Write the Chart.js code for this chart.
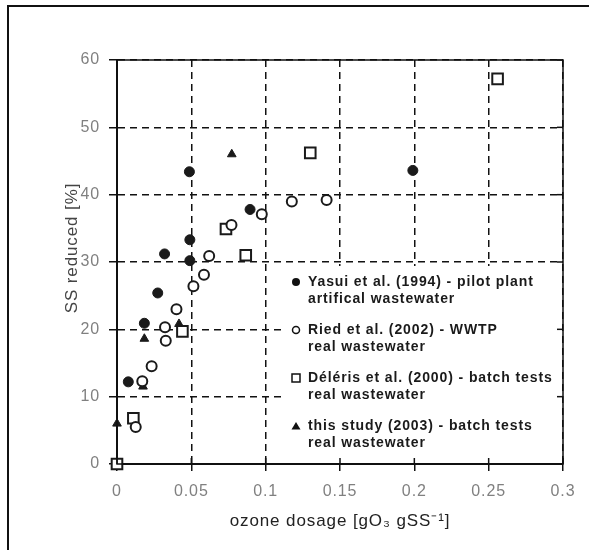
<!DOCTYPE html>
<html>
<head>
<meta charset="utf-8">
<script src="https://cdn.jsdelivr.net/npm/chart.js"></script>
<style>
	body { margin: 0; background: #fff; }
	#wrap { width: 589px; height: 550px; }
</style>
</head>
<body>
<div id="wrap"><canvas id="chartID" width="589" height="550"></canvas></div>
<script>
// SS reduction vs. ozone dosage, four studies
const yasuiX = [0.0076, 0.0184, 0.0274, 0.032, 0.049, 0.049, 0.0487, 0.0895, 0.199]
const yasuiY = [12.2, 20.9, 25.4, 31.2, 30.2, 33.3, 43.4, 37.8, 43.6]

const riedX = [0.0126, 0.017, 0.0233, 0.0323, 0.0328, 0.040, 0.0514, 0.0585, 0.062, 0.077, 0.0974, 0.1176, 0.141]
const riedY = [5.5, 12.3, 14.5, 20.3, 18.3, 23.0, 26.4, 28.1, 30.9, 35.5, 37.1, 39.0, 39.2]

const delerisX = [0, 0.011, 0.044, 0.0733, 0.0866, 0.130, 0.256]
const delerisY = [0, 6.8, 19.7, 34.9, 31.0, 46.2, 57.2]

const studyX = [0, 0.0175, 0.0184, 0.0417, 0.0772]
const studyY = [6.0, 11.5, 18.6, 20.8, 46.0]

const legendLines = [
	['Yasui et al. (1994) - pilot plant', 'artifical wastewater'],
	['Ried et al. (2002) - WWTP', 'real wastewater'],
	['Déléris et al. (2000) - batch tests', 'real wastewater'],
	['this study (2003) - batch tests', 'real wastewater'],
]

const yTitle = 'SS reduced [%]'
const fontName = '"Liberation Sans", Arial, sans-serif'

function toPoints(xs, ys) {
	return xs.map(function(x, i) { return { x: x, y: ys[i] } })
}

// white box with the series key, frame, inner ticks and the y title
const keyBox = {
	id: 'keyBox',
	beforeDraw(chart) {
		chart.ctx.letterSpacing = '0.9px'
	},
	beforeDatasetsDraw(chart) {
		const ctx = chart.ctx
		const ca = chart.chartArea
		ctx.save()
		ctx.fillStyle = '#fff'
		ctx.fillRect(ca.left + 168, ca.top + 206, ca.right - ca.left - 169, ca.bottom - ca.top - 207)
		ctx.restore()
	},
	afterDraw(chart) {
		const ctx = chart.ctx
		const ca = chart.chartArea
		const xs = chart.scales.x
		const ys = chart.scales.y
		ctx.save()

		// plot frame
		ctx.strokeStyle = '#111'
		ctx.lineWidth = 1.5
		ctx.strokeRect(ca.left, ca.top, ca.right - ca.left, ca.bottom - ca.top)

		// short inner ticks on bottom and right edges
		xs.ticks.forEach(function(t) {
			const px = xs.getPixelForValue(t.value)
			ctx.beginPath()
			ctx.moveTo(px, ca.bottom)
			ctx.lineTo(px, ca.bottom - 6)
			ctx.stroke()
		})
		ys.ticks.forEach(function(t) {
			const py = ys.getPixelForValue(t.value)
			ctx.beginPath()
			ctx.moveTo(ca.right, py)
			ctx.lineTo(ca.right - 6, py)
			ctx.stroke()
		})

		// outer frame of the figure
		ctx.lineWidth = 2
		ctx.beginPath()
		ctx.moveTo(8, 550)
		ctx.lineTo(8, 6)
		ctx.lineTo(589, 6)
		ctx.stroke()

		// y axis title
		ctx.save()
		ctx.translate(72, 248)
		ctx.rotate(-Math.PI / 2)
		ctx.font = '17px ' + fontName
		ctx.fillStyle = '#444'
		ctx.textAlign = 'center'
		ctx.textBaseline = 'middle'
		ctx.fillText(yTitle, 0, 0)
		ctx.restore()

		// key
		const mx = ca.left + 179
		const tx = ca.left + 191
		ctx.font = 'bold 14px ' + fontName
		ctx.textBaseline = 'middle'
		legendLines.forEach(function(lines, i) {
			const y0 = ca.top + 222 + i * 48
			ctx.fillStyle = '#1a1a1a'
			ctx.fillText(lines[0], tx, y0)
			ctx.fillText(lines[1], tx, y0 + 17)

			ctx.fillStyle = '#111'
			ctx.strokeStyle = '#111'
			ctx.lineWidth = 1.5
			ctx.beginPath()
			if (i === 0) {
				ctx.arc(mx, y0, 4, 0, Math.PI * 2)
				ctx.fill()
			} else if (i === 1) {
				ctx.arc(mx, y0, 3.5, 0, Math.PI * 2)
				ctx.stroke()
			} else if (i === 2) {
				ctx.rect(mx - 4, y0 - 4, 8, 8)
				ctx.stroke()
			} else {
				ctx.moveTo(mx, y0 - 4)
				ctx.lineTo(mx + 4.5, y0 + 3.5)
				ctx.lineTo(mx - 4.5, y0 + 3.5)
				ctx.closePath()
				ctx.fill()
			}
		})
		ctx.restore()
	},
}

const data = {
	datasets: [
		{
			label: 'Yasui et al. (1994)',
			data: toPoints(yasuiX, yasuiY),
			pointStyle: 'circle',
			pointRadius: 5,
			backgroundColor: '#1a1a1a',
			borderColor: '#1a1a1a',
			borderWidth: 1,
			clip: false,
		},
		{
			label: 'Ried et al. (2002)',
			data: toPoints(riedX, riedY),
			pointStyle: 'circle',
			pointRadius: 5,
			backgroundColor: '#fff',
			borderColor: '#1a1a1a',
			borderWidth: 2,
			clip: false,
		},
		{
			label: 'Déléris et al. (2000)',
			data: toPoints(delerisX, delerisY),
			pointStyle: 'rect',
			pointRadius: 7.5,
			backgroundColor: '#fff',
			borderColor: '#1a1a1a',
			borderWidth: 2,
			clip: false,
		},
		{
			label: 'this study (2003)',
			data: toPoints(studyX, studyY),
			pointStyle: 'triangle',
			pointRadius: 5,
			backgroundColor: '#1a1a1a',
			borderColor: '#1a1a1a',
			borderWidth: 1,
			clip: false,
		},
	],
}

const tickFont = { family: fontName, size: 16 }

let chartCtx = document.getElementById('chartID').getContext('2d')
let scatterChart = new Chart(chartCtx, {
	type: 'scatter',
	data: data,
	plugins: [keyBox],
	options: {
		responsive: false,
		animation: false,
		layout: { padding: { left: 0, top: 60, right: 26, bottom: 0 } },
		plugins: {
			legend: { display: false },
			tooltip: { enabled: false },
		},
		scales: {
			x: {
				type: 'linear',
				min: 0,
				max: 0.3,
				afterFit: function(scale) { scale.height = 86 },
				ticks: {
					stepSize: 0.05,
					color: '#808080',
					font: tickFont,
					padding: 11,
					maxRotation: 0,
					callback: function(v) { return String(Number(v.toFixed(2))) },
				},
				grid: { color: '#111', lineWidth: 1.5, tickLength: 7, tickColor: '#111', tickWidth: 1.5 },
				border: { color: '#111', width: 2, dash: [7, 5] },
				title: {
					display: true,
					text: 'ozone dosage [gO₃ gSS⁻¹]',
					color: '#222',
					font: { family: fontName, size: 17 },
					padding: { top: 18, bottom: 18 },
				},
			},
			y: {
				min: 0,
				max: 60,
				afterFit: function(scale) { scale.width = 117 },
				ticks: { stepSize: 10, color: '#808080', font: tickFont, padding: 9 },
				grid: { color: '#111', lineWidth: 1.5, tickLength: 8, tickColor: '#111', tickWidth: 1.5 },
				border: { color: '#111', width: 2, dash: [7, 5] },
			},
		},
	},
})
</script>
</body>
</html>
